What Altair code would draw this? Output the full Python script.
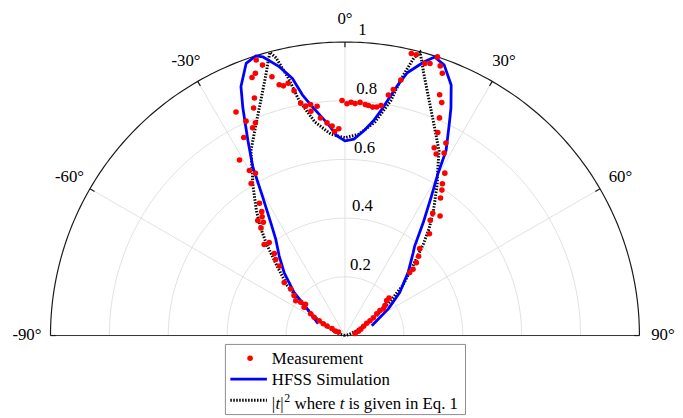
import altair as alt
import pandas as pd
import numpy as np

# ---------------- data (angle in degrees, normalized |t|^2) ----------------
MEAS_THETA = [
    -62.0, -65.1, -61.7, -61.7, -61.4, -60.0, -59.2, -57.6, -55.2, -51.6, -53.0, -54.6, -51.8, -49.3,
    -48.8, -43.3, -42.2, -40.7, -39.1, -41.5, -37.9, -35.7, -37.1, -34.8, -33.8, -32.8, -31.6, -28.8,
    -30.0, -30.9, -27.0, -23.9, -22.75, -24.7, -25.9, -21.8, -20.8, -19.75, -18.8, -17.8, -16.9, -15.7,
    -14.65, -13.8, -12.65, -11.7, -10.75, -9.7, -8.45, -8.6, -6.9, -6.4, -4.8, -3.5, -2.9, -1.7,
    -0.7, 0.5, 1.5, 2.5, 3.7, 5.0, 5.8, 6.9, 7.9, 8.9, 10.2, 11.1, 12.3,
    13.2, 14.2, 16.3, 17.3, 18.3, 19.4, 20.3, 21.4, 22.5, 23.4, 24.5, 27.6, 25.35, 26.6, 28.45, 31.5,
    32.6, 33.6, 34.7, 35.6, 38.4, 36.4, 39.6, 40.6, 42.8, 44.3, 45.7, 45.7, 49.5, 50.0, 53.0, 55.1,
    54.4, 55.5, 57.9, 59.3, 60.4, 63.4, 67.9, 72.6, 79.0,
]
MEAS_R = [
    0.025, 0.036, 0.050, 0.069, 0.084, 0.101, 0.122, 0.138, 0.169, 0.171, 0.188, 0.205, 0.220, 0.243,
    0.274, 0.325, 0.350, 0.368, 0.408, 0.414, 0.464, 0.475, 0.491, 0.493, 0.508, 0.536, 0.608, 0.631,
    0.649, 0.697, 0.757, 0.774, 0.786, 0.804, 0.847, 0.835, 0.866, 0.934, 0.944, 0.986, 0.963, 0.916,
    0.883, 0.876, 0.881, 0.852, 0.806, 0.793, 0.796, 0.773, 0.787, 0.746, 0.727, 0.715, 0.696, 0.705,
    0.801, 0.790, 0.795, 0.791, 0.796, 0.790, 0.788, 0.784, 0.786, 0.793, 0.833, 0.854, 0.891,
    0.987, 0.987, 0.966, 0.971, 1.000, 0.974, 0.953, 0.881, 0.859, 0.808, 0.760, 0.740, 0.708, 0.692,
    0.707, 0.649, 0.614, 0.595, 0.570, 0.512, 0.520, 0.488, 0.450, 0.390, 0.368, 0.347, 0.323, 0.307,
    0.197, 0.185, 0.170, 0.159, 0.146, 0.131, 0.114, 0.099, 0.085, 0.071, 0.058, 0.048, 0.035,
]

HFSS_THETA = [
    -66, -54.6, -49.6, -43.9, -39.5, -35.7, -33.3, -30.6, -28.6, -26.4, -25.4, -24.1, -22.6, -19.9,
    -17.6, -16.4, -13.7, -11.5, -10.0, -8.45, -4.4, -2.3, 0, 2.6, 5.2, 7.5, 9.2, 10.6, 11.7, 13.3,
    16.1, 17.8, 20.1, 22.9, 24.9, 26.2, 28.6, 29.8, 31.8, 34.7, 37.9, 39.4, 45, 51.7, 58.3, 70,
]
HFSS_R = [
    0.100, 0.157, 0.227, 0.298, 0.351, 0.402, 0.458, 0.549, 0.653, 0.741, 0.784, 0.849, 0.919, 0.986,
    1.000, 0.990, 0.943, 0.894, 0.833, 0.795, 0.720, 0.681, 0.663, 0.670, 0.700, 0.737, 0.780, 0.826,
    0.866, 0.920, 0.971, 0.997, 0.981, 0.927, 0.855, 0.802, 0.717, 0.635, 0.556, 0.466, 0.385, 0.365,
    0.303, 0.237, 0.173, 0.097,
]

THEORY_THETA = [
    -90, -76, -68, -63, -58.5, -53, -49, -44, -40.5, -38, -35.3, -31.2, -29.8, -26.9, -22.8, -18.6,
    -16.6, -15.6, -14.8, -13.9, -12.3, -11, -8, -4, 0,
    4, 8, 11, 12.3, 13.9, 14.8, 15.6, 16.6, 18.6, 22.8, 26.9, 29.8, 31.2, 35.3, 38, 40.5, 44, 49, 53,
    58.5, 63, 68, 76, 90,
]
THEORY_R = [
    0.0, 0.015, 0.04, 0.072, 0.12, 0.19, 0.26, 0.335, 0.41, 0.465, 0.52, 0.605, 0.632, 0.706, 0.78,
    0.877, 0.935, 0.97, 0.998, 0.975, 0.895, 0.815, 0.735, 0.688, 0.674,
    0.688, 0.735, 0.815, 0.895, 0.975, 0.998, 0.97, 0.935, 0.877, 0.78, 0.706, 0.632, 0.605, 0.52,
    0.465, 0.41, 0.335, 0.26, 0.19, 0.12, 0.072, 0.04, 0.015, 0.0,
]

RING_RADII = [0.2, 0.4, 0.6, 0.8]
SPOKE_ANGLES = [-60, -30, 0, 30, 60]
TICK_ANGLES = [-90, -60, -30, 0, 30, 60, 90]
ANGLE_TEXT = ["-90°", "-60°", "-30°", "0°", "30°", "60°", "90°"]
RADIAL_VALUES = [0.2, 0.4, 0.6, 0.8, 1.0]
RADIAL_TEXT = ["0.2", "0.4", "0.6", "0.8", "1"]
LEGEND_TEXT = ["Measurement", "HFSS Simulation", "where", "is given in Eq. 1"]

FONT = "'Liberation Serif', 'Times New Roman', Times, serif"

# ---------------- tables ----------------
meas = pd.DataFrame({"theta": MEAS_THETA, "r": MEAS_R})
hfss = pd.DataFrame({"theta": HFSS_THETA, "r": HFSS_R, "i": range(len(HFSS_R))})
theory = pd.DataFrame({"theta": THEORY_THETA, "r": THEORY_R, "i": range(len(THEORY_R))})

arc = np.arange(-90, 90.5, 1.0)
rings = pd.DataFrame([(rr, a, rr, k) for rr in RING_RADII for k, a in enumerate(arc)],
                     columns=["ring", "theta", "r", "i"])
outer = pd.DataFrame({"theta": arc, "r": 1.0, "i": range(len(arc))})
spokes = pd.DataFrame([(a, rr, k) for a in SPOKE_ANGLES for k, rr in enumerate([0.0, 1.0])],
                      columns=["spoke", "r", "i"])
spokes["theta"] = spokes["spoke"]
ticks = pd.DataFrame([(a, rr, k) for a in TICK_ANGLES for k, rr in enumerate([0.982, 1.0])],
                     columns=["tick", "r", "i"])
ticks["theta"] = ticks["tick"]
base = pd.DataFrame({"theta": [-90, 90], "r": [1.0, 1.0], "i": [0, 1]})
alab = pd.DataFrame({"theta": TICK_ANGLES, "r": 1.08, "label": ANGLE_TEXT})
rlab = pd.DataFrame({"theta": 2.0, "r": RADIAL_VALUES, "label": RADIAL_TEXT})
one = pd.DataFrame({"k": [0]})

xs = alt.Scale(domain=[-1, 1], nice=False, zero=False)
ys = alt.Scale(domain=[0, 1], nice=False, zero=False)
X = alt.X("x:Q", scale=xs, axis=None)
Y = alt.Y("y:Q", scale=ys, axis=None)


def polar(df):
    return alt.Chart(df).transform_calculate(
        x="datum.r * sin(datum.theta * PI / 180)",
        y="datum.r * cos(datum.theta * PI / 180)",
    )


ring_layer = polar(rings).mark_line(color="#d9d9d9", strokeWidth=0.8).encode(
    X, Y, detail="ring:N", order="i:Q")
spoke_layer = polar(spokes).mark_line(color="#d9d9d9", strokeWidth=0.8).encode(
    X, Y, detail="spoke:N", order="i:Q")
outer_layer = polar(outer).mark_line(color="#1a1a1a", strokeWidth=1.2).encode(X, Y, order="i:Q")
base_layer = polar(base).mark_line(color="#333333", strokeWidth=1).encode(X, Y, order="i:Q")
tick_layer = polar(ticks).mark_line(color="#1a1a1a", strokeWidth=1.2).encode(
    X, Y, detail="tick:N", order="i:Q")

theory_layer = polar(theory).mark_line(
    color="black", strokeWidth=3, strokeDash=[1.5, 1.5]).encode(X, Y, order="i:Q")
hfss_layer = polar(hfss).mark_line(
    color="#0000ff", strokeWidth=2.8, strokeJoin="round").encode(X, Y, order="i:Q")
meas_layer = polar(meas).mark_circle(color="#ff0000", size=32, opacity=1).encode(X, Y)

alab_layer = polar(alab).mark_text(
    font=FONT, fontSize=17, align="center", baseline="middle", color="black").encode(X, Y, text="label:N")
rlab_layer = polar(rlab).mark_text(
    font=FONT, fontSize=17, align="left", baseline="alphabetic", dx=3, dy=-7, color="black").encode(
    X, Y, text="label:N")

# ---------------- legend (drawn by hand) ----------------
leg_box = alt.Chart(one).mark_rect(fill="white", stroke="#8c8c8c", strokeWidth=1).encode(
    x=alt.value(177), x2=alt.value(420), y=alt.value(306), y2=alt.value(377))
leg_dot = alt.Chart(one).mark_circle(color="#ff0000", size=32, opacity=1).encode(
    x=alt.value(202), y=alt.value(320))
leg_blue = alt.Chart(one).mark_rule(color="#0000ff", strokeWidth=2.8).encode(
    x=alt.value(182), x2=alt.value(219), y=alt.value(341))
leg_dash = alt.Chart(one).mark_rule(color="black", strokeWidth=3, strokeDash=[1.5, 1.5]).encode(
    x=alt.value(182), x2=alt.value(219), y=alt.value(362.5))


def ltext(txt, x, y, size=17, style="normal"):
    return alt.Chart(one).mark_text(
        text=txt, font=FONT, fontSize=size, fontStyle=style, align="left",
        baseline="alphabetic", color="black").encode(x=alt.value(x), y=alt.value(y))


leg_texts = [
    ltext(LEGEND_TEXT[0], 224, 326),
    ltext(LEGEND_TEXT[1], 224, 347),
    ltext("|", 224, 371.5),
    ltext("t", 227.6, 371.5, style="italic"),
    ltext("|", 232.6, 371.5),
    ltext("2", 236.5, 364, size=12),
    ltext(LEGEND_TEXT[2], 247, 371.5),
    ltext("t", 292.8, 371.5, style="italic"),
    ltext(LEGEND_TEXT[3], 301.5, 371.5),
]

chart = alt.layer(
    ring_layer, spoke_layer, outer_layer, base_layer, tick_layer,
    theory_layer, hfss_layer, meas_layer,
    alab_layer, rlab_layer,
    leg_box, leg_dot, leg_blue, leg_dash, *leg_texts,
).properties(
    width=596, height=297,
    autosize=alt.AutoSizeParams(type="none"),
    padding={"left": 43, "top": 32, "right": 36, "bottom": 81},
    background="white",
).configure_view(strokeWidth=0)

chart.save("out.html", embed_options={"renderer": "svg", "actions": False})
